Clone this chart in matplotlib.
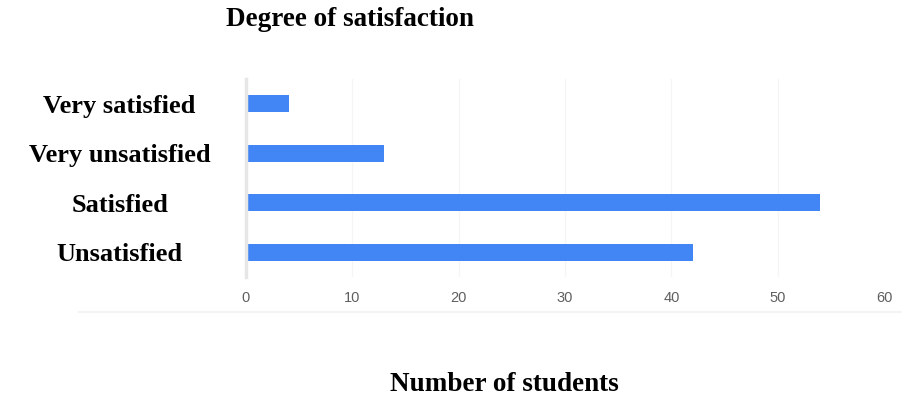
import matplotlib.pyplot as plt

categories = ['Very satisfied', 'Very unsatisfied', 'Satisfied', 'Unsatisfied']
students = [4, 13, 54, 42]
xticks = [0, 10, 20, 30, 40, 50, 60]

plt.rcParams['font.family'] = ['Liberation Serif', 'DejaVu Serif']

fig = plt.figure(figsize=(9.03, 4.03), dpi=100)
ax = fig.add_axes([0.2724, 0.3127, 0.7066, 0.4913])

ypos = range(len(categories))
ax.barh(ypos, students, height=0.34, color='#4285F4')
ax.set_ylim(3.5, -0.5)
ax.set_xlim(0, 60)

ax.set_yticks(list(ypos))
ax.set_yticklabels(categories, fontsize=19, fontweight='bold', ha='center')
ax.tick_params(axis='y', length=0, pad=91)

ax.set_xticks(xticks)
ax.set_xticklabels([str(t) for t in xticks], fontsize=10.5, color='#5f5f5f',
                   family=['Liberation Sans', 'DejaVu Sans'])
ax.tick_params(axis='x', length=0, pad=10)
ax.grid(axis='x', color='#f5f5f5', linewidth=1)
ax.set_axisbelow(True)

for s in ['top', 'right', 'bottom']:
    ax.spines[s].set_visible(False)
ax.spines['left'].set_color('#e6e6e6')
ax.spines['left'].set_linewidth(2.5)

fig.text(0.388, 0.952, 'Degree of satisfaction', fontsize=19.5, fontweight='bold',
         ha='center', va='center')
fig.text(0.559, 0.045, 'Number of students', fontsize=19.5, fontweight='bold',
         ha='center', va='center')

# faint line under the tick labels
fig.add_artist(plt.Line2D([0.088, 0.998], [0.226, 0.226], color='#f3f3f3', linewidth=1.5))

fig.savefig('out.png', dpi=100)
